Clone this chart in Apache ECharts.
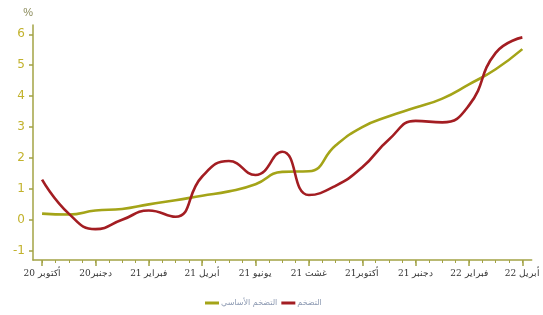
<!DOCTYPE html>
<html>
<head>
<meta charset="utf-8">
<script src="https://cdn.jsdelivr.net/npm/echarts@6/dist/echarts.min.js"></script>
<style>
    html, body { margin: 0; padding: 0; background: #fff; }
    #chart-inflation { width: 543px; height: 315px; }
</style>
</head>
<body>
<div id="chart-inflation"></div>
<script>
// الأشهر: من أكتوبر 2020 إلى أبريل 2022 (موقع كل شهر على المحور = رقمه)
var monthIndex = [0, 1, 2, 3, 4, 5, 6, 7, 8, 9, 10, 11, 12, 13, 14, 15, 16, 17, 18];

// التضخم
var headline = [1.3, 0.2, -0.3, 0.0, 0.3, 0.1, 1.4, 1.9, 1.45, 2.2,
    0.8, 1.1, 1.7, 2.6, 3.2, 3.15, 3.7, 5.4, 5.9];

// التضخم الأساسي
var core = [0.2, 0.17, 0.3, 0.35, 0.5, 0.63, 0.78, 0.92, 1.15, 1.55,
    1.57, 2.4, 3.0, 3.35, 3.63, 3.92, 4.38, 4.87, 5.52];

var xLabelValues = [0, 2, 4, 6, 8, 10, 12, 14, 16, 18];
var xLabels = ['أكتوبر 20', 'دجنبر20', 'فبراير 21', 'أبريل 21', 'يونيو 21',
    'غشت 21', 'أكتوبر21', 'دجنبر 21', 'فبراير 22', 'أبريل 22'];
var xMinorTicks = [0, 0.5, 1, 1.5, 2, 2.5, 3, 3.5, 4, 4.5, 5, 5.5, 6, 6.5, 7, 7.5, 8, 8.5, 9,
    9.5, 10, 10.5, 11, 11.5, 12, 12.5, 13, 13.5, 14, 14.5, 15, 15.5, 16, 16.5, 17, 17.5, 18];
var yTicks = [-1, 0, 1, 2, 3, 4, 5, 6];

var seriesNames = ['التضخم الأساسي', 'التضخم'];

function pairs(values) {
    return values.map(function (v, i) { return [monthIndex[i], v]; });
}

var chart = echarts.init(document.getElementById('chart-inflation'), null, {renderer: 'canvas'});

var axisColor = '#a3a345';

var option = {
    animation: false,
    grid: {
        left: 33,
        right: 10,
        top: 25,
        bottom: 55
    },
    legend: {
        left: 200,
        top: 294,
        itemWidth: 14,
        itemHeight: 3,
        itemGap: 4,
        icon: 'rect',
        data: seriesNames,
        textStyle: {
            color: '#8e9bb3',
            fontSize: 8,
            fontFamily: 'DejaVu Sans',
            padding: [0, 0, 0, -3]
        }
    },
    xAxis: [
        {
            type: 'value',
            min: -0.34,
            max: 18.35,
            splitLine: {show: false},
            axisLine: {onZero: false, lineStyle: {color: axisColor, width: 1.5}},
            axisTick: {
                customValues: xLabelValues,
                length: 6,
                lineStyle: {color: axisColor, width: 1.5}
            },
            axisLabel: {
                customValues: xLabelValues,
                margin: 9,
                color: '#333',
                fontSize: 9,
                fontFamily: 'DejaVu Serif',
                formatter: function (v) {
                    var i = xLabelValues.indexOf(Math.round(v));
                    return i >= 0 ? xLabels[i] : '';
                }
            }
        },
        {
            // minor ticks (نصف شهر)
            type: 'value',
            position: 'bottom',
            min: -0.34,
            max: 18.35,
            splitLine: {show: false},
            axisLine: {show: false, onZero: false},
            axisTick: {
                customValues: xMinorTicks,
                length: 3,
                lineStyle: {color: axisColor, width: 1}
            },
            axisLabel: {show: false}
        }
    ],
    yAxis: {
        type: 'value',
        min: -1.3,
        max: 6.3,
        name: '%',
        nameLocation: 'end',
        nameGap: 7,
        nameTextStyle: {
            color: '#8c8c5c',
            fontSize: 11,
            align: 'right',
            padding: [0, 0, 0, 0]
        },
        splitLine: {show: false},
        axisLine: {show: true, onZero: false, lineStyle: {color: axisColor, width: 1.5}},
        axisTick: {
            show: true,
            customValues: yTicks,
            length: 4,
            lineStyle: {color: axisColor, width: 1.5}
        },
        axisLabel: {
            customValues: yTicks,
            margin: 8,
            color: '#c2b22c',
            fontSize: 12,
            fontFamily: 'DejaVu Sans'
        }
    },
    series: [
        {
            name: seriesNames[0],
            type: 'line',
            smooth: true,
            showSymbol: false,
            color: '#a4a418',
            lineStyle: {width: 2.6, color: '#a4a418'},
            data: pairs(core)
        },
        {
            name: seriesNames[1],
            type: 'line',
            smooth: true,
            showSymbol: false,
            color: '#a31d22',
            lineStyle: {width: 2.6, color: '#a31d22'},
            data: pairs(headline)
        }
    ]
};

chart.setOption(option);
</script>
</body>
</html>
